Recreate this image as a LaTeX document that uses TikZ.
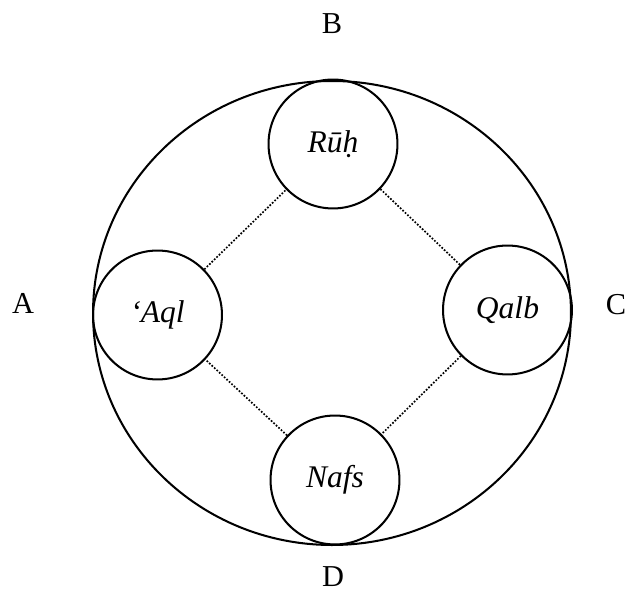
\documentclass[tikz,border=0pt]{standalone}
\usepackage{fontspec}
\setmainfont{Liberation Serif}
\usetikzlibrary{shapes.geometric}

\tikzset{
  part/.style={circle, draw, line width=0.9pt, minimum size=57.3pt, inner sep=0pt, font=\fontsize{14pt}{16pt}\selectfont\itshape},
  whole/.style={ellipse, draw, line width=0.9pt, minimum width=212.4pt, minimum height=206.2pt, inner sep=0pt},
  link/.style={line width=0.75pt, dash pattern=on 0.75pt off 0.75pt},
  pole/.style={inner sep=0pt, font=\fontsize{13.5pt}{16pt}\selectfont}
}

\begin{document}
\begin{tikzpicture}[x=0.4444pt, y=-0.4444pt]
  \useasboundingbox (0,0) rectangle (627,593);

  % outer ring
  \node[whole] (ring) at (332,313) {};

  % four faculties
  \node[part] (ruh)  at (333,144)   {R\={u}\d{h}};
  \node[part] (aql)  at (157.5,315) {‘Aql};
  \node[part] (qalb) at (507.5,310) {Qalb};
  \node[part] (nafs) at (335,480)   {Nafs};

  % dotted links between them
  \draw[link] (aql)  -- (ruh);
  \draw[link] (ruh)  -- (qalb);
  \draw[link] (qalb) -- (nafs);
  \draw[link] (nafs) -- (aql);

  % compass letters
  \node[pole] (la) at (23,303)  {A};
  \node[pole] (lb) at (332,24)  {B};
  \node[pole] (lc) at (616,305) {C};
  \node[pole] (ld) at (333,577) {D};
\end{tikzpicture}
\end{document}
